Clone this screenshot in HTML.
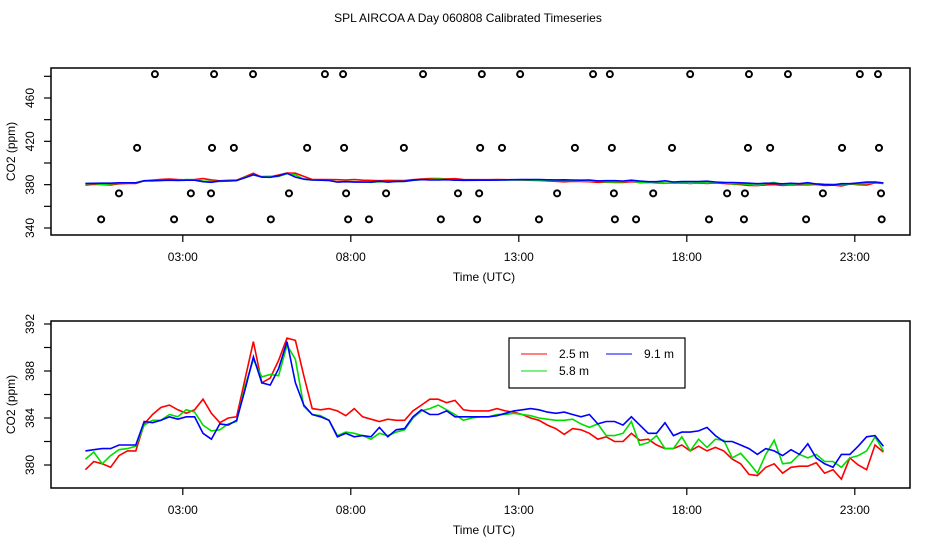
<!DOCTYPE html>
<html><head><meta charset="utf-8"><style>
body{margin:0;background:#fff;}
svg text{font-family:"Liberation Sans",sans-serif;font-size:12px;fill:#000;}
</style></head><body>
<svg id="chart" width="936" height="540" xmlns="http://www.w3.org/2000/svg">
<text x="468" y="22" text-anchor="middle">SPL AIRCOA A  Day 060808  Calibrated Timeseries</text>
<g id="top"></g>
<g id="bot"></g>
</svg>
<script>
const xTicks=[3,8,13,18,23];
const xTickLabels=["03:00","08:00","13:00","18:00","23:00"];
const t0=0.1, dt=0.25;
const red=[379.6,380.3,380.1,379.8,380.8,381.2,381.2,383.5,384.3,384.9,385.1,384.7,384.4,384.7,385.6,384.4,383.6,384.0,384.1,387.3,390.5,387.0,387.4,388.9,390.8,390.6,387.6,384.8,384.7,384.8,384.6,384.2,384.8,384.1,383.9,383.7,383.9,383.8,383.8,384.6,385.1,385.6,385.6,385.3,385.5,384.7,384.6,384.6,
384.6,384.8,384.6,384.5,384.3,384.0,383.8,383.4,383.1,382.6,383.1,383.0,382.7,382.2,382.4,382.0,382.0,382.7,382.1,382.2,381.7,381.4,381.4,381.7,381.2,381.6,381.2,381.5,381.2,380.5,380.1,379.2,379.1,379.8,380.1,379.3,379.8,379.9,379.9,380.2,379.3,379.6,378.8,380.6,380.0,379.6,381.7,381.1];
const green=[380.5,381.1,380.1,380.8,381.3,381.4,381.6,383.4,383.8,383.8,384.3,384.1,384.7,384.5,383.4,382.9,383.0,383.5,383.7,386.7,389.0,387.5,387.7,387.6,390.2,389.0,385.0,384.3,384.2,383.8,382.5,382.8,382.7,382.5,382.2,382.7,382.5,382.8,383.0,384.0,384.6,384.8,385.1,384.7,384.3,383.8,384.0,384.1,
384.1,384.3,384.3,384.4,384.3,384.2,384.0,383.9,383.8,383.8,383.9,383.5,383.2,383.5,382.5,382.5,382.7,383.7,381.7,381.9,382.5,381.4,381.4,382.4,381.2,382.2,381.5,382.2,382.1,380.6,381.0,380.2,379.3,380.9,382.1,380.1,380.2,380.9,380.6,380.9,380.3,380.3,379.8,380.6,380.8,381.2,382.4,381.2];
const blue=[381.2,381.3,381.4,381.4,381.7,381.7,381.7,383.7,383.6,383.8,384.1,383.9,384.1,384.1,382.7,382.2,383.5,383.4,383.8,386.4,389.2,387.0,386.8,388.2,390.5,387.0,385.1,384.3,384.1,383.8,382.4,382.7,382.4,382.5,382.4,383.2,382.4,383.0,383.1,384.1,384.7,384.3,384.3,384.6,384.1,384.1,384.1,384.1,
384.1,384.2,384.4,384.6,384.7,384.8,384.7,384.5,384.4,384.5,384.3,384.1,384.3,383.5,383.7,383.7,383.4,384.1,383.4,382.7,382.7,383.6,382.5,382.8,382.8,382.9,383.2,382.5,382.0,382.0,381.7,381.4,380.9,381.4,381.2,380.8,381.3,380.9,381.8,380.6,380.1,379.8,380.9,380.9,381.6,382.4,382.5,381.6];
const circleHours=[2.17,3.93,5.09,7.23,7.77,10.15,11.9,13.04,15.21,15.71,18.1,19.85,21.01,23.15,23.69,
1.64,3.87,4.52,6.7,7.8,9.58,11.85,12.5,14.67,15.77,17.56,19.82,20.48,22.62,23.72,
1.1,3.24,3.84,6.16,7.86,9.05,11.19,11.82,14.14,15.83,17.0,19.2,19.73,22.05,23.78,
0.57,2.74,3.81,5.62,7.92,8.54,10.68,11.76,13.6,15.86,16.49,18.66,19.7,21.55,23.8];
const circleValues=[482,482,482,482,482,482,482,482,482,482,482,482,482,482,482,
414,414,414,414,414,414,414,414,414,414,414,414,414,414,414,
372,372,372,372,372,372,372,372,372,372,372,372,372,372,372,
348,348,348,348,348,348,348,348,348,348,348,348,348,348,348];
const topTicks=[340,360,380,400,420,440,460,480];
const topLabels=[340,380,420,460];
const botTicks=[380,382,384,386,388,390,392];
const botLabels=[380,384,388,392];

const NS="http://www.w3.org/2000/svg";
function mk(p,tag,a){const e=document.createElementNS(NS,tag);for(const k in a)e.setAttribute(k,a[k]);p.appendChild(e);return e;}
const xs=h=>82+33.6*h;
const L=51,R=910;
function panel(g,top,bottom,ys,yt,yl,name){
  const box=mk(g,'rect',{x:L,y:top,width:R-L,height:bottom-top,fill:'none',stroke:'#000','stroke-width':1.5});
  
  
  xTicks.forEach((h,i)=>{
    const l=mk(g,'line',{x1:xs(h),x2:xs(h),y1:bottom,y2:bottom+7,stroke:'#000','stroke-width':1.2});
    
    
    const t=mk(g,'text',{x:xs(h),y:bottom+26,'text-anchor':'middle'});t.textContent=xTickLabels[i];
    
    
  });
  const xt=mk(g,'text',{x:484,y:bottom+46,'text-anchor':'middle'});xt.textContent='Time (UTC)';
  
  
  yt.forEach(v=>{
    const l=mk(g,'line',{x1:L-7,x2:L,y1:ys(v),y2:ys(v),stroke:'#000','stroke-width':1.2});
    
    
  });
  yl.forEach(v=>{
    const t=mk(g,'text',{x:34,y:ys(v),'text-anchor':'middle',transform:`rotate(-90 34 ${ys(v)})`});t.textContent=v;
    
    
  });
  const cy=(top+bottom)/2;
  const yt2=mk(g,'text',{x:15,y:cy,'text-anchor':'middle',transform:`rotate(-90 15 ${cy})`});yt2.textContent='CO2 (ppm)';
  
  
}
function series(g,arr,ys,color,name){
  const pts=arr.map((v,i)=>xs(t0+dt*i).toFixed(1)+','+ys(v).toFixed(1)).join(' ');
  const p=mk(g,'polyline',{points:pts,fill:'none',stroke:color,'stroke-width':1.6,'stroke-linejoin':'miter'});
  
  
}
const gt=document.getElementById('top');
const ysT=v=>228-(v-340)*130/120;
panel(gt,68,235,ysT,topTicks,topLabels,'top');
series(gt,red,ysT,'#f00','top-series-2-5m');
series(gt,green,ysT,'#0d0','top-series-5-8m');
series(gt,blue,ysT,'#00f','top-series-9-1m');
circleHours.forEach((h,i)=>{
  const c=mk(gt,'circle',{cx:xs(h),cy:ysT(circleValues[i]),r:3,fill:'none',stroke:'#000','stroke-width':2});
  
  
});
const gb=document.getElementById('bot');
const ysB=v=>465-(v-380)*141/12;
panel(gb,321,488,ysB,botTicks,botLabels,'bottom');
series(gb,red,ysB,'#f00','bottom-series-2-5m');
series(gb,green,ysB,'#0d0','bottom-series-5-8m');
series(gb,blue,ysB,'#00f','bottom-series-9-1m');
const lg=mk(gb,'g',{});


mk(lg,'rect',{x:509,y:338,width:176,height:50,fill:'#fff',stroke:'#000','stroke-width':1.2});
const leg=[['#f00',521,354,'2.5 m','legend-entry-2-5m'],['#00f',606,354,'9.1 m','legend-entry-9-1m'],['#0d0',521,371,'5.8 m','legend-entry-5-8m']];
leg.forEach(e=>{
  const gg=mk(lg,'g',{});
  
  
  mk(gg,'line',{x1:e[1],x2:e[1]+26,y1:e[2],y2:e[2],stroke:e[0],'stroke-width':1});
  const t=mk(gg,'text',{x:e[1]+38,y:e[2]+4});t.textContent=e[3];
});
</script>
</body></html>
